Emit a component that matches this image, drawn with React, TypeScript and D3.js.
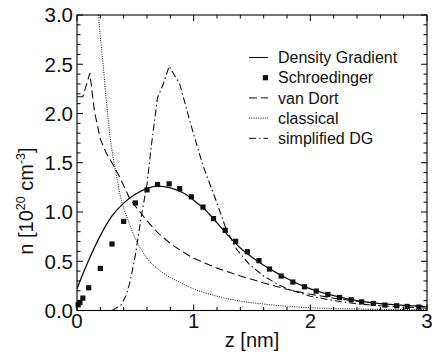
import React from "react";
import * as d3 from "d3";

const W = 432;
const H = 362;

const xTicks = [0, 1, 2, 3];
const yTicks = [0, 0.5, 1.0, 1.5, 2.0, 2.5, 3.0];

const schX = [0.01, 0.025, 0.05, 0.1, 0.2, 0.3, 0.4, 0.5, 0.6, 0.69, 0.79, 0.88, 0.98, 1.08, 1.17, 1.27, 1.36, 1.46, 1.56, 1.65, 1.75, 1.85, 1.95, 2.05, 2.15, 2.25, 2.35, 2.44, 2.54, 2.64, 2.74, 2.83, 2.93];
const schY = [0.058, 0.081, 0.126, 0.231, 0.427, 0.675, 0.905, 1.092, 1.225, 1.279, 1.286, 1.236, 1.154, 1.05, 0.933, 0.814, 0.702, 0.597, 0.506, 0.421, 0.35, 0.289, 0.241, 0.197, 0.163, 0.132, 0.109, 0.088, 0.071, 0.055, 0.048, 0.041, 0.035];

const dgX = [0, 0.05, 0.1, 0.2, 0.3, 0.4, 0.5, 0.6, 0.7, 0.8, 0.9, 1.0, 1.1, 1.2, 1.3, 1.4, 1.5, 1.6, 1.7, 1.8, 1.9, 2.0, 2.2, 2.4, 2.6, 2.8, 3.0];
const dgY = [0.22, 0.37, 0.51, 0.76, 0.96, 1.09, 1.18, 1.24, 1.262, 1.245, 1.2, 1.12, 1.02, 0.89, 0.755, 0.635, 0.54, 0.46, 0.39, 0.325, 0.268, 0.22, 0.15, 0.1, 0.07, 0.052, 0.04];

const vdX = [0, 0.05, 0.11, 0.15, 0.2, 0.25, 0.3, 0.35, 0.4, 0.45, 0.5, 0.6, 0.7, 0.8, 0.9, 1.0, 1.2, 1.4, 1.6, 1.8, 2.0, 2.2, 2.4, 2.6, 2.8, 3.0];
const vdY = [2.17, 2.17, 2.41, 2.02, 1.74, 1.6, 1.5, 1.39, 1.27, 1.14, 1.06, 0.91, 0.78, 0.68, 0.6, 0.53, 0.43, 0.35, 0.28, 0.215, 0.165, 0.125, 0.095, 0.07, 0.052, 0.04];

const clX = [0.15, 0.185, 0.2, 0.225, 0.25, 0.28, 0.31, 0.34, 0.37, 0.4, 0.45, 0.5, 0.55, 0.6, 0.7, 0.8, 0.9, 1.0, 1.2, 1.4, 1.6, 1.8, 2.0, 2.4, 3.0];
const clY = [3.7, 3.0, 2.78, 2.48, 2.15, 1.8, 1.55, 1.36, 1.17, 1.04, 0.88, 0.73, 0.62, 0.53, 0.415, 0.335, 0.275, 0.22, 0.145, 0.095, 0.065, 0.043, 0.028, 0.015, 0.008];

const sdX = [0.3, 0.33, 0.38, 0.42, 0.45, 0.47, 0.5, 0.55, 0.6, 0.64, 0.69, 0.74, 0.79, 0.84, 0.88, 0.98, 1.08, 1.2, 1.28, 1.37, 1.48, 1.6, 1.7, 1.8, 2.0, 2.2, 2.4, 2.6, 2.8, 3.0];
const sdY = [0.0, 0.02, 0.06, 0.15, 0.27, 0.38, 0.56, 0.95, 1.28, 1.7, 2.16, 2.3, 2.48, 2.38, 2.3, 1.87, 1.47, 1.09, 0.82, 0.617, 0.465, 0.35, 0.28, 0.22, 0.145, 0.1, 0.068, 0.048, 0.034, 0.025];

const legendLabels = ["Density Gradient", "Schroedinger", "van Dort", "classical", "simplified DG"];

const FONT = "'Liberation Sans', Arial, Helvetica, sans-serif";

export default function App() {
  const left = 77, right = 427, top = 15, bottom = 310.5;
  const x = d3.scaleLinear().domain([0, 3]).range([left, right]);
  const y = d3.scaleLinear().domain([0, 3]).range([bottom, top]);

  const line = (xs: number[], ys: number[]) =>
    d3.line<number>().x((_, i) => x(xs[i])).y((_, i) => y(ys[i])).curve(d3.curveMonotoneX)(xs.map((_, i) => i)) || "";
  const lineLin = (xs: number[], ys: number[]) =>
    d3.line<number>().x((_, i) => x(xs[i])).y((_, i) => y(ys[i]))(xs.map((_, i) => i)) || "";

  const xMinor = d3.range(0, 3.0001, 0.2);
  const yMinor = d3.range(0, 3.0001, 0.1);

  const ticks: JSX.Element[] = [];
  xMinor.forEach((v, i) => {
    const major = Math.abs(v - Math.round(v)) < 1e-6;
    const L = major ? 6 : 3.5;
    ticks.push(<line key={"xb" + i} x1={x(v)} x2={x(v)} y1={bottom} y2={bottom - L} stroke="#000" strokeWidth={1} />);
    ticks.push(<line key={"xt" + i} x1={x(v)} x2={x(v)} y1={top} y2={top + L} stroke="#000" strokeWidth={1} />);
  });
  yMinor.forEach((v, i) => {
    const major = Math.abs(v * 2 - Math.round(v * 2)) < 1e-6;
    const L = major ? 6 : 3.5;
    ticks.push(<line key={"yl" + i} x1={left} x2={left + L} y1={y(v)} y2={y(v)} stroke="#000" strokeWidth={1} />);
    ticks.push(<line key={"yr" + i} x1={right} x2={right - L} y1={y(v)} y2={y(v)} stroke="#000" strokeWidth={1} />);
  });

  const styles = [
    { dash: undefined as string | undefined, w: 1.1 },
    null,
    { dash: "8,4", w: 1 },
    { dash: "1,1.3", w: 1 },
    { dash: "7,3,1.5,3", w: 1 },
  ];

  const legX1 = 249, legX2 = 268, legTextX = 278;
  const legY0 = 57.5, legDy = 20.2;

  return (
    <svg width={W} height={H} style={{ position: "absolute", left: 0, top: 0, background: "#fff" }} fontFamily={FONT}>
      <defs>
        <clipPath id="plotclip">
          <rect x={left} y={top} width={right - left} height={bottom - top} />
        </clipPath>
      </defs>
      <rect x={0} y={0} width={W} height={H} fill="#fff" />
      <g clipPath="url(#plotclip)" fill="none" stroke="#111">
        <path d={line(clX, clY)} strokeWidth={1} strokeDasharray="1,1.3" />
        <path d={lineLin(vdX, vdY)} strokeWidth={1.1} strokeDasharray="8,4" />
        <path d={lineLin(sdX, sdY)} strokeWidth={1.1} strokeDasharray="7,3,1.5,3" />
        <path d={line(dgX, dgY)} strokeWidth={1.3} />
      </g>
      <g fill="#111">
        {schX.map((v, i) => (
          <rect key={"s" + i} x={x(v) - 2.6} y={y(schY[i]) - 2.6} width={5.2} height={5.2} />
        ))}
      </g>
      <rect x={left} y={top} width={right - left} height={bottom - top} fill="none" stroke="#000" strokeWidth={1.1} />
      {ticks}
      {yTicks.map((v) => (
        <text key={"yt" + v} x={73} y={y(v)} dy="0.36em" textAnchor="end" fontSize={20.5} fill="#111">
          {v.toFixed(1)}
        </text>
      ))}
      {xTicks.map((v) => (
        <text key={"xt" + v} x={x(v)} y={327.5} textAnchor="middle" fontSize={20.5} fill="#111">
          {v}
        </text>
      ))}
      <text x={x(1.5)} y={347} textAnchor="middle" fontSize={20} fill="#111">z [nm]</text>
      <text transform="translate(33,201) rotate(-90)" textAnchor="middle" fontSize={20} fill="#111">
        n [10<tspan dy={-8} fontSize={12.5}>20</tspan><tspan dy={8}> cm</tspan><tspan dy={-8} fontSize={12.5}>-3</tspan><tspan dy={8}>]</tspan>
      </text>
      {legendLabels.map((lab, i) => {
        const yy = legY0 + i * legDy;
        const st = styles[i];
        return (
          <g key={"lg" + i}>
            {st ? (
              <line x1={legX1} x2={legX2} y1={yy} y2={yy} stroke="#111" strokeWidth={st.w} strokeDasharray={st.dash} />
            ) : (
              <rect x={legX2 - 5.2} y={yy - 2.6} width={5.2} height={5.2} fill="#111" />
            )}
            <text x={legTextX} y={yy} dy="0.36em" fontSize={16} fill="#111">{lab}</text>
          </g>
        );
      })}
    </svg>
  );
}
